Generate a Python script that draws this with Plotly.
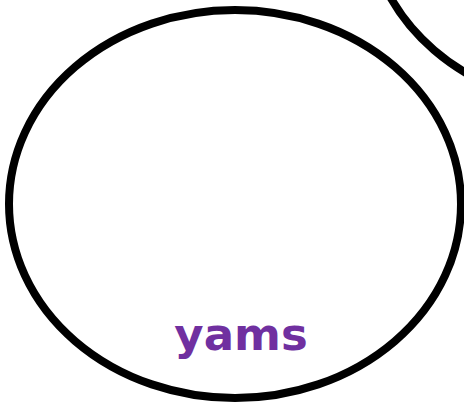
import plotly.graph_objects as go

# Venn-style sets (coordinates in the chart's own units)
set_names = ["yams", "other"]
set_cx = [235, 594]
set_cy = [204, -87]
set_rx = [226, 226]
set_ry = [194, 194]
label_names = ["yams"]
label_x = [241]
label_y = [339]

W, H = 464, 405

fig = go.Figure()

for cx, cy, rx, ry in zip(set_cx, set_cy, set_rx, set_ry):
    fig.add_shape(
        type="circle", xref="x", yref="y",
        x0=cx - rx, x1=cx + rx, y0=cy - ry, y1=cy + ry,
        line=dict(color="black", width=8),
        fillcolor="rgba(0,0,0,0)",
    )

fig.add_trace(go.Scatter(
    x=label_x, y=label_y, text=label_names, mode="text",
    textposition="middle center",
    textfont=dict(family="DejaVu Sans", size=45, color="#7030A0", weight="bold"),
    hoverinfo="skip", showlegend=False,
))

fig.update_xaxes(range=[0, W], visible=False, fixedrange=True)
fig.update_yaxes(range=[H, 0], visible=False, fixedrange=True)
fig.update_layout(
    width=W, height=H,
    margin=dict(l=0, r=0, t=0, b=0),
    paper_bgcolor="white", plot_bgcolor="white",
    showlegend=False,
)

fig.write_html(
    "out.html",
    config={"displayModeBar": False},
    post_script="document.body.style.margin='0';document.body.style.overflow='hidden';",
)
